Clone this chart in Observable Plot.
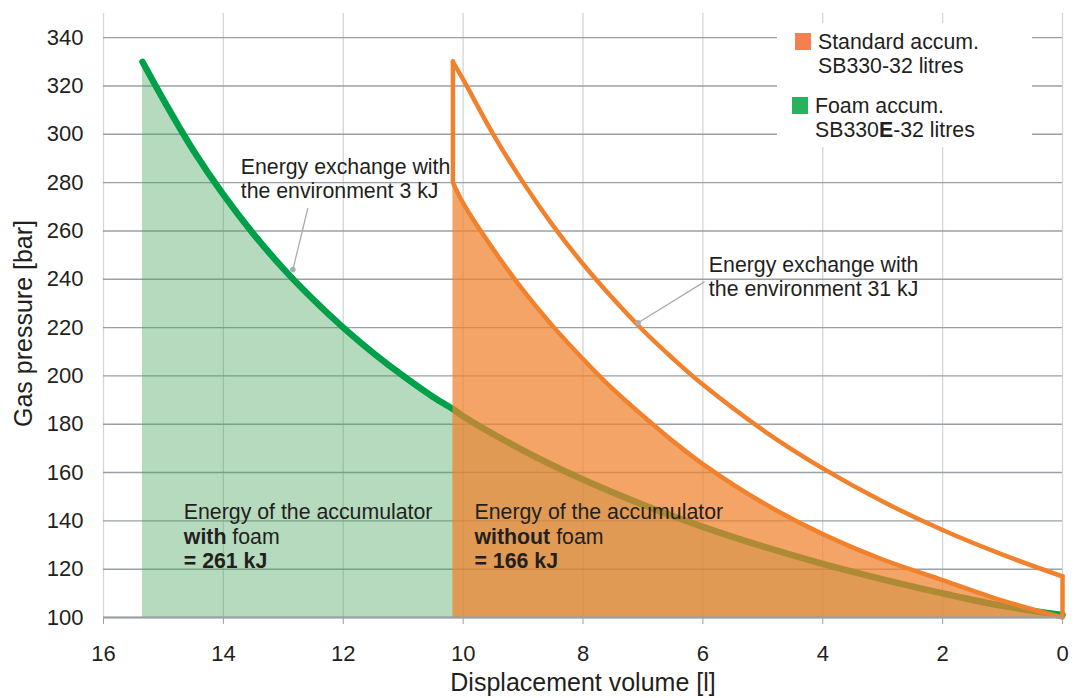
<!DOCTYPE html>
<html>
<head>
<meta charset="utf-8">
<script src="https://cdn.jsdelivr.net/npm/d3@7"></script>
<script src="https://cdn.jsdelivr.net/npm/@observablehq/plot@0.6"></script>
<style>
  html, body { margin: 0; padding: 0; background: #fff; }
  #wrap { position: relative; width: 1080px; height: 698px; font-family: "Liberation Sans", Arial, sans-serif; color: #231f20; }
  #legend { position: absolute; left: 777px; top: 23px; width: 255px; height: 124px; background: #fff; font-size: 21.3px; line-height: 24px; }
  .item { position: absolute; white-space: nowrap; }
  .sw { position: absolute; width: 16px; height: 17px; }
</style>
</head>
<body>
<div id="wrap">
  <div id="chart"></div>
  <div id="legend">
    <div class="sw" style="left:18px; top:10px; background:#f47f4f;"></div>
    <div class="item" style="left:41px; top:7px;">Standard accum.<br>SB330-32 litres</div>
    <div class="sw" style="left:15px; top:74px; background:#27b35c;"></div>
    <div class="item" style="left:38px; top:71px;">Foam accum.<br>SB330<b>E</b>-32 litres</div>
  </div>
</div>
<script>
// Axis ticks
const xTicks = [16, 14, 12, 10, 8, 6, 4, 2, 0];
const yTicks = [100, 120, 140, 160, 180, 200, 220, 240, 260, 280, 300, 320, 340];

// Foam accumulator SB330E (green curve)
const foamX = [15.35, 15, 14.5, 14, 13.5, 13, 12.5, 12, 11.5, 11, 10.5, 10.17, 10, 9, 8, 7, 6, 5, 4, 3, 2, 1, 0];
const foamP = [330, 314.3, 293.3, 275, 258.8, 244.4, 231.6, 220, 209.5, 200, 191.3, 186.3, 183.3, 169.2, 157.1, 146.7, 137.5, 129.4, 122.2, 115.8, 110, 104.8, 101];

// Standard accumulator SB330, lower (expansion) curve
const stdLowX = [10.17, 10, 9.5, 9, 8.5, 8, 7.5, 7, 6.5, 6, 5, 4, 3, 2, 1, 0];
const stdLowP = [280, 271.5, 252.5, 235.5, 220.5, 207, 194.5, 183.5, 173, 163.5, 147.5, 134.5, 124, 115.5, 107, 100];

// Standard accumulator SB330, upper (compression) curve
const stdHighX = [10.17, 10, 9.5, 9, 8.5, 8, 7.5, 7, 6.5, 6, 5, 4, 3, 2, 1, 0];
const stdHighP = [330, 322.7, 300.1, 280.1, 262.2, 246.3, 232, 218.9, 207.2, 196.4, 177.6, 161.7, 148, 136.2, 126, 117];

const foam = foamX.map((x, i) => ({x, p: foamP[i]}));
const stdLow = stdLowX.map((x, i) => ({x, p: stdLowP[i]}));
const stdHigh = stdHighX.map((x, i) => ({x, p: stdHighP[i]}));

const ORANGE = "#f0822e";
const GREEN = "#00a04a";
const FONT = "'Liberation Sans', Arial, sans-serif";
const INK = "#231f20";

const plot = Plot.plot({
  width: 1080,
  height: 698,
  marginLeft: 103,
  marginRight: 18,
  marginTop: 13,
  marginBottom: 81,
  style: {fontFamily: FONT, background: "#fff", color: INK},
  x: {domain: [16, 0]},
  y: {domain: [100, 350]},
  marks: [
    Plot.ruleX(xTicks, {stroke: "#d3d6da", strokeWidth: 1.3}),
    Plot.ruleY(yTicks, {stroke: "#9aa0a6", strokeWidth: 1.4}),
    Plot.area(foam, {x1: "x", y1: 100, y2: "p", fill: "rgb(70,162,90)", fillOpacity: 0.4, curve: "catmull-rom"}),
    Plot.line(foam, {x: "x", y: "p", stroke: GREEN, strokeWidth: 6.5, curve: "catmull-rom"}),
    Plot.area(stdLow, {x1: "x", y1: 100, y2: "p", fill: "rgb(240,130,45)", fillOpacity: 0.73, curve: "catmull-rom"}),
    Plot.line(stdHigh, {x: "x", y: "p", stroke: ORANGE, strokeWidth: 4.5, curve: "catmull-rom"}),
    Plot.line(stdLow, {x: "x", y: "p", stroke: ORANGE, strokeWidth: 4.5, curve: "catmull-rom"}),
    Plot.ruleX([stdLowX[0]], {y1: stdLowP[0], y2: stdHighP[0], stroke: ORANGE, strokeWidth: 4.5, strokeLinecap: "round"}),
    Plot.ruleX([0], {y1: stdLowP[stdLowP.length - 1], y2: stdHighP[stdHighP.length - 1], stroke: ORANGE, strokeWidth: 4.5, strokeLinecap: "round"}),
    Plot.ruleY([100], {stroke: "#9aa0a6", strokeWidth: 2}),
    // leaders
    Plot.link([{x1: 12.59, y1: 269.5, x2: 12.84, y2: 244}, {x1: 5.97, y1: 239, x2: 7.08, y2: 222}],
      {x1: "x1", y1: "y1", x2: "x2", y2: "y2", stroke: "#a9adb2", strokeWidth: 1.3}),
    Plot.dot([{x: 12.84, p: 244}, {x: 7.08, p: 222}], {x: "x", y: "p", r: 2.8, fill: "#a9adb2"}),
    // annotations
    Plot.text([{x: 13.71, p: 281.7, t: "Energy exchange with\nthe environment 3 kJ"},
               {x: 5.9, p: 241.3, t: "Energy exchange with\nthe environment 31 kJ"}],
      {x: "x", y: "p", text: "t", textAnchor: "start", fontSize: 21.3, lineHeight: 1.13, fill: INK}),
    Plot.text([{x: 14.66, p: 133.8, t: "Energy of the accumulator\nwith foam\n= 261 kJ"},
               {x: 9.81, p: 133.8, t: "Energy of the accumulator\nwithout foam\n= 166 kJ"}],
      {x: "x", y: "p", text: "t", textAnchor: "start", fontSize: 21.3, lineHeight: 1.13, fill: INK}),
    // axes
    Plot.axisX({ticks: xTicks, tickSize: 7, tickPadding: 21, stroke: "#9aa0a6", fill: INK, fontSize: 22, label: null}),
    Plot.axisY({ticks: yTicks, tickSize: 0, tickPadding: 20, fill: INK, fontSize: 22, label: null}),
    Plot.text(["Displacement volume [l]"], {frameAnchor: "bottom", textAnchor: "middle", lineAnchor: "bottom", dy: 73, fontSize: 25, fill: INK}),
    Plot.text(["Gas pressure [bar]"], {frameAnchor: "left", textAnchor: "middle", lineAnchor: "middle", rotate: -90, dx: -80, dy: 8, fontSize: 25, fill: INK})
  ]
});

document.getElementById("chart").appendChild(plot);

// bold fragments in the annotations
d3.select(plot).selectAll("tspan").each(function() {
  const s = d3.select(this);
  const t = s.text();
  if (t === "with foam") { s.text(null); s.append("tspan").attr("font-weight", "bold").text("with"); s.append("tspan").text(" foam"); }
  else if (t === "without foam") { s.text(null); s.append("tspan").attr("font-weight", "bold").text("without"); s.append("tspan").text(" foam"); }
  else if (t === "= 261 kJ" || t === "= 166 kJ") { s.attr("font-weight", "bold"); }
});
</script>
</body>
</html>
